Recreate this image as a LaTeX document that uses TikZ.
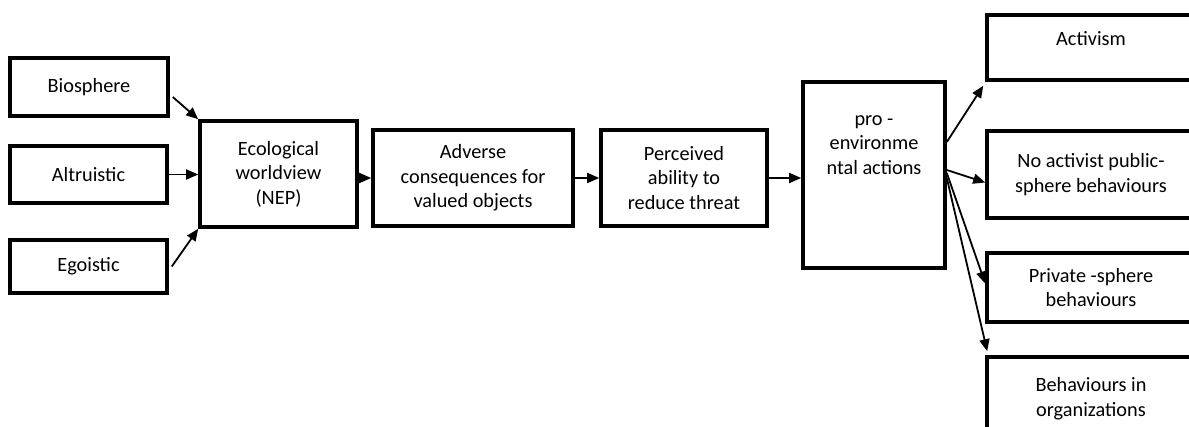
\documentclass[tikz,border=0pt]{standalone}
\usepackage{fontspec}
\setmainfont{Carlito}
\usetikzlibrary{arrows.meta}
\begin{document}
\begin{tikzpicture}[x=1pt,y=-1pt,
  box/.style={draw, line width=3.6pt, align=center, inner sep=2pt,
    font=\fontsize{20.3}{24.5}\selectfont},
  link/.style={-{Triangle[length=12pt,width=10pt]}, line width=1.8pt}]
\useasboundingbox (0,0) rectangle (1189,427);
\clip (0,0) rectangle (1189,427);

\node[box, minimum width=158pt, minimum height=58pt] (bio) at (89,87) {Biosphere};
\node[box, minimum width=157pt, minimum height=57pt] (alt) at (88.5,174.5) {Altruistic};
\node[box, minimum width=157pt, minimum height=53pt] (ego) at (88.5,266.5) {Egoistic};
\node[box, minimum width=157pt, minimum height=106pt] (eco) at (278.5,174) {Ecological\\worldview\\(NEP)};
\node[box, minimum width=200pt, minimum height=96pt] (adv) at (473,178) {Adverse\\consequences for\\valued objects};
\node[box, minimum width=166pt, minimum height=96pt] (per) at (684,178) {Perceived\\ability to\\reduce threat};
\node[box, minimum width=142pt, minimum height=186pt, text depth=60pt] (pro) at (874,175) {pro -\\environme\\ntal actions};

\node[box, minimum width=208pt, minimum height=65pt, text depth=18pt] (act) at (1091,47.5) {Activism};
\node[box, minimum width=208pt, minimum height=87pt] (na) at (1091,174.5) {No activist public-\\sphere behaviours};
\node[box, minimum width=208pt, minimum height=69pt] (priv) at (1091,287.5) {Private -sphere\\behaviours};
\node[box, minimum width=208pt, minimum height=83pt] (beh) at (1091,398.5) {Behaviours in\\organizations};

\draw[link] ([xshift=3pt,yshift=-10pt]bio.east) -- (eco.north west);
\draw[link] (alt.east) -- (alt.east -| eco.west);
\draw[link] ([xshift=3pt]ego.east) -- (eco.south west);
\draw[link] (eco.east |- adv.west) -- (adv.west);
\draw[link] (adv.east) -- (per.west);
\draw[link] (per.east) -- (per.east -| pro.west);

\draw[link] ([yshift=33pt]pro.east) -- ([xshift=-2pt,yshift=-4pt]act.south west);
\draw[link] ([yshift=5pt]pro.east) -- ([yshift=-8pt]na.west);
\draw[link] ([yshift=2pt]pro.east) -- ([yshift=4pt]priv.west);
\draw[link] ([yshift=-3pt]pro.east) -- ([xshift=2pt,yshift=4pt]beh.north west);
\end{tikzpicture}
\end{document}
